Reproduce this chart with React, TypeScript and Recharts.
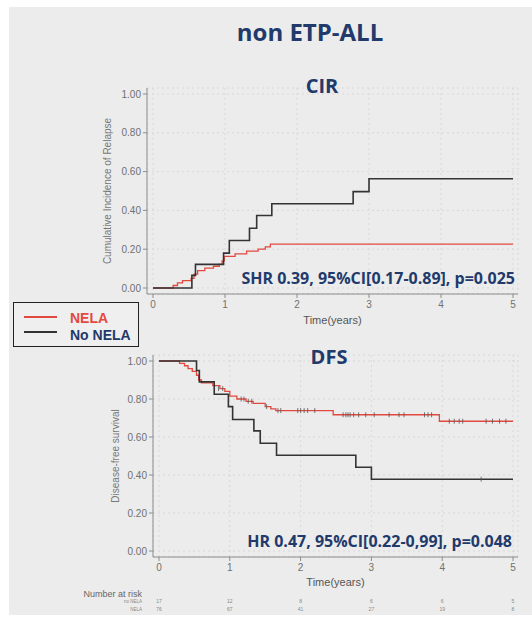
import { ComposedChart, Line, Scatter, XAxis, YAxis, CartesianGrid } from 'recharts'

// CIR (cumulative incidence of relapse)
const cirNela = [
  { t: 0, v: 0 }, { t: 0.28, v: 0.013 }, { t: 0.34, v: 0.026 }, { t: 0.41, v: 0.038 },
  { t: 0.53, v: 0.05 }, { t: 0.57, v: 0.072 }, { t: 0.62, v: 0.09 }, { t: 0.72, v: 0.102 },
  { t: 0.84, v: 0.112 }, { t: 0.92, v: 0.122 }, { t: 0.96, v: 0.14 }, { t: 0.99, v: 0.163 },
  { t: 1.14, v: 0.176 }, { t: 1.3, v: 0.19 }, { t: 1.46, v: 0.2 }, { t: 1.56, v: 0.212 },
  { t: 1.63, v: 0.226 }, { t: 5, v: 0.226 },
]
const cirNoNela = [
  { t: 0, v: 0 }, { t: 0.54, v: 0.065 }, { t: 0.59, v: 0.122 }, { t: 0.98, v: 0.18 },
  { t: 1.06, v: 0.245 }, { t: 1.34, v: 0.308 }, { t: 1.44, v: 0.374 }, { t: 1.65, v: 0.434 },
  { t: 2.78, v: 0.497 }, { t: 3.0, v: 0.563 }, { t: 5, v: 0.563 },
]

// DFS (disease-free survival)
const dfsNela = [
  { t: 0, v: 1 }, { t: 0.29, v: 0.987 }, { t: 0.36, v: 0.975 }, { t: 0.41, v: 0.96 },
  { t: 0.47, v: 0.945 }, { t: 0.53, v: 0.925 }, { t: 0.56, v: 0.9 }, { t: 0.6, v: 0.885 },
  { t: 0.76, v: 0.87 }, { t: 0.86, v: 0.855 }, { t: 0.93, v: 0.84 }, { t: 1.0, v: 0.815 },
  { t: 1.1, v: 0.8 }, { t: 1.23, v: 0.788 }, { t: 1.33, v: 0.777 }, { t: 1.5, v: 0.76 },
  { t: 1.58, v: 0.748 }, { t: 1.65, v: 0.739 }, { t: 2.46, v: 0.717 }, { t: 3.96, v: 0.683 },
  { t: 5, v: 0.683 },
]
const dfsNoNela = [
  { t: 0, v: 1 }, { t: 0.53, v: 0.95 }, { t: 0.57, v: 0.89 }, { t: 0.78, v: 0.825 },
  { t: 0.98, v: 0.76 }, { t: 1.04, v: 0.692 }, { t: 1.34, v: 0.632 }, { t: 1.43, v: 0.567 },
  { t: 1.66, v: 0.504 }, { t: 2.78, v: 0.441 }, { t: 3.0, v: 0.378 }, { t: 5, v: 0.378 },
]

// censored observations (tick marks)
const dfsNelaCensor = [
  { t: 0.84, v: 0.855 }, { t: 0.9, v: 0.855 },
  { t: 1.16, v: 0.8 }, { t: 1.2, v: 0.8 }, { t: 1.26, v: 0.788 }, { t: 1.31, v: 0.788 },
  { t: 1.52, v: 0.76 }, { t: 1.68, v: 0.739 }, { t: 1.72, v: 0.739 }, { t: 1.96, v: 0.739 },
  { t: 2.0, v: 0.739 }, { t: 2.05, v: 0.739 }, { t: 2.1, v: 0.739 }, { t: 2.2, v: 0.739 },
  { t: 2.6, v: 0.717 }, { t: 2.64, v: 0.717 }, { t: 2.67, v: 0.717 }, { t: 2.7, v: 0.717 },
  { t: 2.75, v: 0.717 }, { t: 2.82, v: 0.717 }, { t: 2.92, v: 0.717 }, { t: 3.04, v: 0.717 },
  { t: 3.25, v: 0.717 }, { t: 3.39, v: 0.717 }, { t: 3.46, v: 0.717 }, { t: 3.75, v: 0.717 },
  { t: 3.8, v: 0.717 }, { t: 3.85, v: 0.717 }, { t: 4.1, v: 0.683 }, { t: 4.17, v: 0.683 },
  { t: 4.24, v: 0.683 }, { t: 4.29, v: 0.683 }, { t: 4.62, v: 0.683 }, { t: 4.71, v: 0.683 },
  { t: 4.81, v: 0.683 }, { t: 4.9, v: 0.683 },
]
const dfsNoNelaCensor = [{ t: 4.55, v: 0.378 }]

const xTicks = [0, 1, 2, 3, 4, 5]
const yTicks = [0, 0.2, 0.4, 0.6, 0.8, 1]

// number at risk
const riskNoNela = [17, 12, 8, 6, 6, 5]
const riskNela = [76, 67, 41, 27, 19, 8]

const RED = '#e2493f'
const BLACK = '#333333'
const NAVY = '#213a6b'
const AXIS = '#8c8c8c'
const TXT = '#707070'
const SANS = '"Liberation Sans", Arial, sans-serif'
const TITLE_FONT = '"Open Sans", sans-serif'

const CensorMark = (props: any) => {
  const { cx, cy } = props
  if (cx == null || cy == null) return null
  return <line x1={cx} x2={cx} y1={cy - 2.5} y2={cy + 2.5} stroke="#555" strokeWidth={0.8} />
}

const PlainTick = (props: any) => {
  const { x, y, payload } = props
  return (
    <text x={x} y={y} dy="0.71em" textAnchor="middle" fill={TXT} fontSize={10} fontFamily={SANS}>
      {payload.value}
    </text>
  )
}

const RiskTick = (props: any) => {
  const { x, y, payload, index } = props
  return (
    <g>
      <text x={x} y={y} dy="0.71em" textAnchor="middle" fill={TXT} fontSize={10} fontFamily={SANS}>
        {payload.value}
      </text>
      <text x={x} y={y + 39} textAnchor="middle" fill="#888" fontSize={5} fontFamily={SANS}>
        {riskNoNela[index]}
      </text>
      <text x={x} y={y + 47} textAnchor="middle" fill="#888" fontSize={5} fontFamily={SANS}>
        {riskNela[index]}
      </text>
      {index === 0 && (
        <g fontFamily={SANS} textAnchor="end">
          <text x={x - 17} y={y + 33} fill="#666" fontSize={9}>Number at risk</text>
          <text x={x - 17} y={y + 39} fill="#888" fontSize={4.5}>no NELA</text>
          <text x={x - 17} y={y + 47} fill="#888" fontSize={4.5}>NELA</text>
        </g>
      )}
    </g>
  )
}

const abs = (left: number, top: number, extra: any = {}) => ({ position: 'absolute' as const, left, top, ...extra })

export default function App() {
  return (
    <div style={{ position: 'absolute', left: 0, top: 0, width: 532, height: 618, background: '#fff' }}>
      <div style={abs(9, 7, { width: 523, height: 608, background: '#ececec' })} />

      <div style={abs(160, 20, { width: 300, textAlign: 'center', fontFamily: TITLE_FONT, fontWeight: 700, fontSize: 24, lineHeight: '24px', color: NAVY })}>
        non ETP-ALL
      </div>

      {/* CIR */}
      <div style={abs(9, 70)}>
        <ComposedChart width={514} height={260} margin={{ top: 18, right: 5, left: 0, bottom: 0 }}>
          <CartesianGrid stroke="#d8d8d8" strokeDasharray="2 3" />
          <XAxis
            type="number" dataKey="t" domain={[0, 5]} ticks={xTicks} height={36}
            padding={{ left: 6, right: 5 }} stroke={AXIS} tickSize={4} tickMargin={3}
            tick={<PlainTick />}
            label={{ value: 'Time(years)', position: 'insideBottom', offset: 6, fill: '#555', fontSize: 11, fontFamily: SANS }}
          />
          <YAxis
            type="number" domain={[0, 1]} ticks={yTicks} width={138}
            padding={{ top: 6, bottom: 6 }} stroke={AXIS} tickSize={4} tickMargin={2}
            tick={{ fill: TXT, fontSize: 10, fontFamily: SANS }}
            tickFormatter={(v: number) => v.toFixed(2)}
            label={{ value: 'Cumulative Incidence of Relapse', angle: -90, position: 'insideLeft', offset: 98, fill: '#777', fontSize: 10, fontFamily: SANS, style: { textAnchor: 'middle' } }}
          />
          <Line data={cirNela} dataKey="v" type="stepAfter" stroke={RED} strokeWidth={1.3} dot={false} isAnimationActive={false} />
          <Line data={cirNoNela} dataKey="v" type="stepAfter" stroke={BLACK} strokeWidth={1.6} dot={false} isAnimationActive={false} />
        </ComposedChart>
      </div>

      {/* DFS */}
      <div style={abs(9, 340)}>
        <ComposedChart width={514} height={278} margin={{ top: 15, right: 5, left: 0, bottom: 25 }}>
          <CartesianGrid stroke="#d8d8d8" strokeDasharray="2 3" />
          <XAxis
            type="number" dataKey="t" domain={[0, 5]} ticks={xTicks} height={36}
            padding={{ left: 6, right: 5 }} stroke={AXIS} tickSize={4} tickMargin={3}
            tick={<RiskTick />}
            label={{ value: 'Time(years)', position: 'insideBottom', offset: 7, fill: '#555', fontSize: 11, fontFamily: SANS }}
          />
          <YAxis
            type="number" domain={[0, 1]} ticks={yTicks} width={144}
            padding={{ top: 6, bottom: 6 }} stroke={AXIS} tickSize={4} tickMargin={2}
            tick={{ fill: TXT, fontSize: 10, fontFamily: SANS }}
            tickFormatter={(v: number) => v.toFixed(2)}
            label={{ value: 'Disease-free survival', angle: -90, position: 'insideLeft', offset: 106, fill: '#777', fontSize: 10, fontFamily: SANS, style: { textAnchor: 'middle' } }}
          />
          <Line data={dfsNela} dataKey="v" type="stepAfter" stroke={RED} strokeWidth={1.3} dot={false} isAnimationActive={false} />
          <Line data={dfsNoNela} dataKey="v" type="stepAfter" stroke={BLACK} strokeWidth={1.6} dot={false} isAnimationActive={false} />
          <Scatter data={dfsNelaCensor} dataKey="v" shape={<CensorMark />} isAnimationActive={false} />
          <Scatter data={dfsNoNelaCensor} dataKey="v" shape={<CensorMark />} isAnimationActive={false} />
        </ComposedChart>
      </div>

      <div style={abs(272, 76, { width: 100, textAlign: 'center', fontFamily: TITLE_FONT, fontWeight: 700, fontSize: 20, lineHeight: '20px', color: NAVY })}>
        CIR
      </div>
      <div style={abs(279, 347, { width: 100, textAlign: 'center', fontFamily: TITLE_FONT, fontWeight: 700, fontSize: 20, lineHeight: '20px', color: NAVY })}>
        DFS
      </div>

      <div style={abs(215, 270, { width: 300, textAlign: 'right', fontFamily: TITLE_FONT, fontWeight: 700, fontSize: 16, lineHeight: '16px', color: NAVY, whiteSpace: 'nowrap' })}>
        SHR 0.39, 95%CI[0.17-0.89], p=0.025
      </div>
      <div style={abs(212, 533, { width: 300, textAlign: 'right', fontFamily: TITLE_FONT, fontWeight: 700, fontSize: 16, lineHeight: '16px', color: NAVY, whiteSpace: 'nowrap' })}>
        HR 0.47, 95%CI[0.22-0,99], p=0.048
      </div>

      {/* legend */}
      <div style={abs(13, 302, { width: 124, height: 43, border: '1.5px solid #222', boxSizing: 'content-box', background: '#efefef' })}>
        <div style={abs(10, 13, { width: 33, height: 2, background: RED })} />
        <div style={abs(10, 28, { width: 33, height: 2, background: BLACK })} />
        <div style={abs(56, 7, { fontFamily: SANS, fontWeight: 700, fontSize: 14, lineHeight: '16.5px', color: RED, whiteSpace: 'nowrap' })}>NELA</div>
        <div style={abs(56, 23.5, { fontFamily: SANS, fontWeight: 700, fontSize: 14, lineHeight: '16.5px', color: NAVY, whiteSpace: 'nowrap' })}>No NELA</div>
      </div>
    </div>
  )
}
